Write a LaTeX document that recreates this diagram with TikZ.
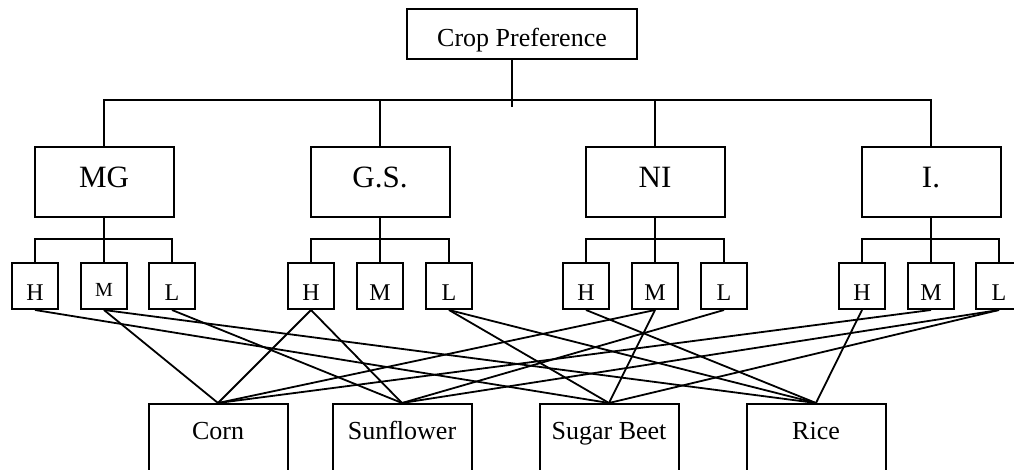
\documentclass[tikz,border=0pt]{standalone}
\usepackage{fontspec}
\setmainfont{Liberation Serif}

\tikzset{
    goalbox/.style={draw, line width=2pt, minimum width=230pt, minimum height=50pt, inner sep=0pt, text height=26pt, text depth=0pt, font=\fontsize{26}{30}\selectfont},
    critbox/.style={draw, line width=2pt, minimum width=139pt, minimum height=70pt, inner sep=0pt, text height=12pt, text depth=0pt, font=\fontsize{31}{36}\selectfont},
    levelbox/.style={draw, line width=2pt, minimum width=46pt, minimum height=46pt, inner sep=0pt, text height=28pt, text depth=0pt, font=\fontsize{24}{28}\selectfont},
    cropbox/.style={draw, line width=2pt, minimum width=139pt, minimum height=100pt, inner sep=0pt, text height=10pt, text depth=40pt, anchor=north, font=\fontsize{26}{30}\selectfont},
    link/.style={line width=1.8pt},
}

\begin{document}
\begin{tikzpicture}[x=1pt, y=-1pt, line width=2pt]
    \path[use as bounding box] (0,0) rectangle (1014,470);
    \clip (0,0) rectangle (1014,470);

    %goal
    \node[goalbox] (goal) at (522,34) {Crop Preference};
    \coordinate (bar) at (512,100);

    %criteria
    \node[critbox] (mg) at (104,182) {MG};
    \node[critbox] (gs) at (380,182) {G.S.};
    \node[critbox] (ni) at (655,182) {NI};
    \node[critbox] (i) at (931,182) {I.};

    \draw (goal.south -| bar) -- ([yshift=-7pt]bar);
    \draw (mg.north) |- (bar) -| (i.north);
    \draw (gs.north) -- (gs.north |- bar);
    \draw (ni.north) -- (ni.north |- bar);

    %MG levels
    \node[levelbox] (mg-h) at (35,286) {H};
    \node[levelbox, text height=20pt, font=\fontsize{20}{24}\selectfont] (mg-m) at (104,286) {M};
    \node[levelbox] (mg-l) at (172,286) {L};
    \draw (mg.south) -- (mg-m.north);
    \draw (mg-h.north) -- ++(0,-23) -| (mg-l.north);

    %G.S. levels
    \node[levelbox] (gs-h) at (311,286) {H};
    \node[levelbox] (gs-m) at (380,286) {M};
    \node[levelbox] (gs-l) at (449,286) {L};
    \draw (gs.south) -- (gs-m.north);
    \draw (gs-h.north) -- ++(0,-23) -| (gs-l.north);

    %NI levels
    \node[levelbox] (ni-h) at (586,286) {H};
    \node[levelbox] (ni-m) at (655,286) {M};
    \node[levelbox] (ni-l) at (724,286) {L};
    \draw (ni.south) -- (ni-m.north);
    \draw (ni-h.north) -- ++(0,-23) -| (ni-l.north);

    %I. levels
    \node[levelbox] (i-h) at (862,286) {H};
    \node[levelbox] (i-m) at (931,286) {M};
    \node[levelbox] (i-l) at (999,286) {L};
    \draw (i.south) -- (i-m.north);
    \draw (i-h.north) -- ++(0,-23) -| (i-l.north);

    %crops
    \node[cropbox] (corn) at (218,403) {Corn};
    \node[cropbox] (sunflower) at (402,403) {Sunflower};
    \node[cropbox] (beet) at (609,403) {Sugar Beet};
    \node[cropbox] (rice) at (816,403) {Rice};

    %Corn
    \draw[link] (mg-m.south) -- (corn.north);
    \draw[link] (gs-h.south) -- (corn.north);
    \draw[link] (ni-m.south) -- (corn.north);
    \draw[link] (i-m.south) -- (corn.north);

    %Sunflower
    \draw[link] (mg-l.south) -- (sunflower.north);
    \draw[link] (gs-h.south) -- (sunflower.north);
    \draw[link] (ni-l.south) -- (sunflower.north);
    \draw[link] (i-l.south) -- (sunflower.north);

    %Sugar Beet
    \draw[link] (mg-h.south) -- (beet.north);
    \draw[link] (gs-l.south) -- (beet.north);
    \draw[link] (ni-m.south) -- (beet.north);
    \draw[link] (i-l.south) -- (beet.north);

    %Rice
    \draw[link] (mg-m.south) -- (rice.north);
    \draw[link] (gs-l.south) -- (rice.north);
    \draw[link] (ni-h.south) -- (rice.north);
    \draw[link] (i-h.south) -- (rice.north);
\end{tikzpicture}
\end{document}
